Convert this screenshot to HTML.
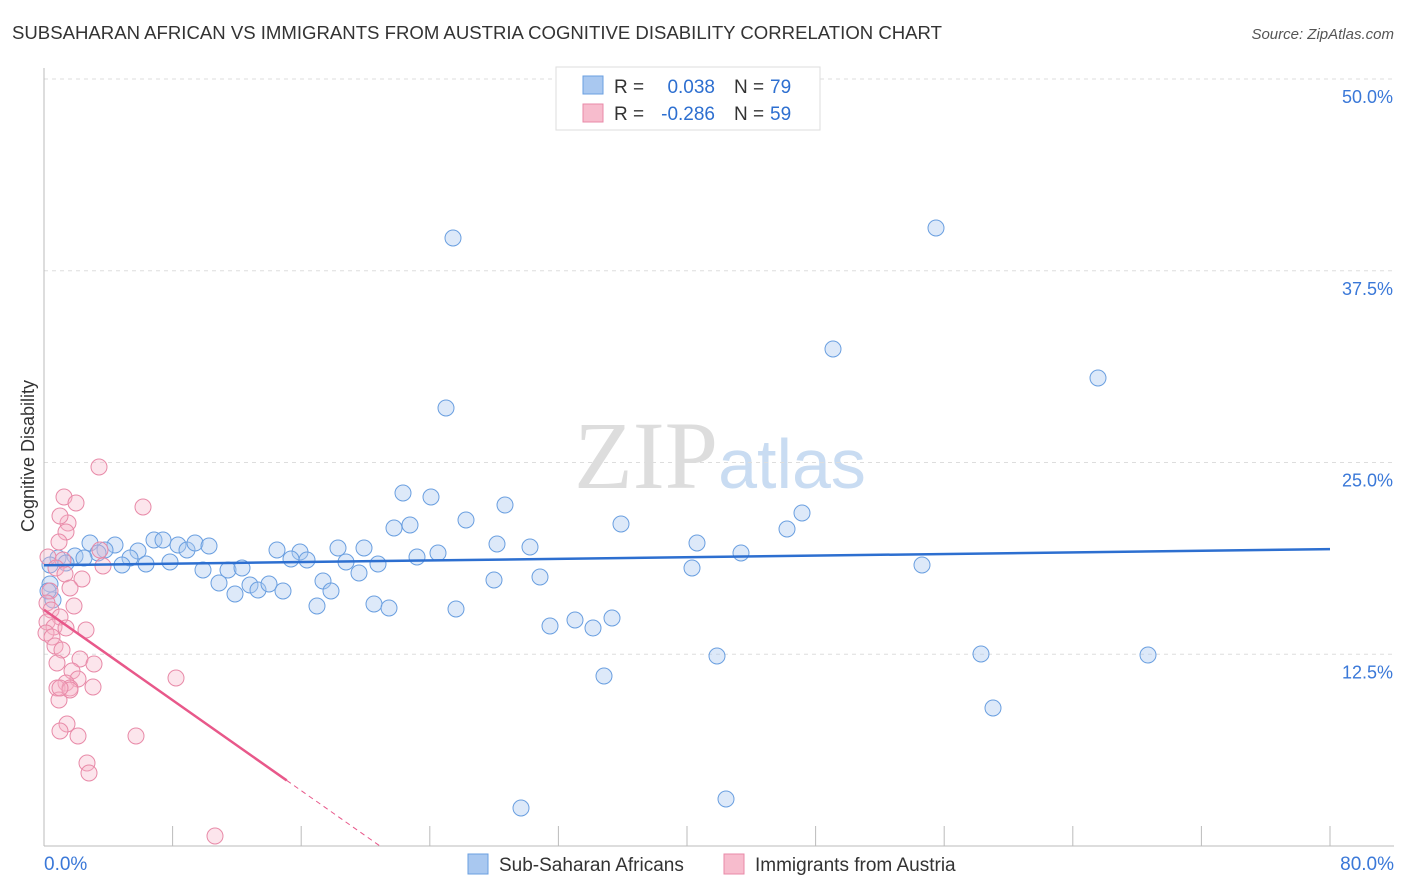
<!DOCTYPE html>
<html><head><meta charset="utf-8"><style>
body{margin:0;background:#fff;font-family:"Liberation Sans",sans-serif}
svg{display:block}
</style></head><body>
<svg id="c" width="1406" height="892">
<text x="12" y="39" font-size="18" fill="#333" textLength="930" lengthAdjust="spacingAndGlyphs">SUBSAHARAN AFRICAN VS IMMIGRANTS FROM AUSTRIA COGNITIVE DISABILITY CORRELATION CHART</text>
<text x="1394" y="39" font-size="15" fill="#555" font-style="italic" text-anchor="end">Source: ZipAtlas.com</text>
<text x="0" y="0" transform="translate(34,456) rotate(-90)" font-size="18" fill="#333" text-anchor="middle">Cognitive Disability</text>
<text x="720" y="488" font-size="96" fill="#ddd" font-family="Liberation Serif,serif" text-anchor="middle">ZIP<tspan fill="#c9dcf2" font-family="Liberation Sans,sans-serif" font-size="70">atlas</tspan></text>
<g id="grid"></g><g id="pts"></g><g id="lines"></g>
<g>
<rect x="556" y="67" width="264" height="63" fill="#fff" stroke="#ddd"/>
<rect x="583" y="76" width="20" height="18" fill="#a9c8f0" stroke="#6a9fe0"/>
<text x="614" y="93" font-size="19" fill="#333">R =</text>
<text x="715" y="93" font-size="19" fill="#2d6fd0" text-anchor="end">0.038</text>
<text x="734" y="93" font-size="19" fill="#333">N =</text>
<text x="770" y="93" font-size="19" fill="#2d6fd0">79</text>
<rect x="583" y="104" width="20" height="18" fill="#f7bccd" stroke="#e88aa8"/>
<text x="614" y="120" font-size="19" fill="#333">R =</text>
<text x="715" y="120" font-size="19" fill="#2d6fd0" text-anchor="end">-0.286</text>
<text x="734" y="120" font-size="19" fill="#333">N =</text>
<text x="770" y="120" font-size="19" fill="#2d6fd0">59</text>
</g>
<g>
<rect x="468" y="854" width="20" height="20" fill="#a9c8f0" stroke="#6a9fe0"/>
<text x="499" y="871" font-size="19" fill="#333">Sub-Saharan Africans</text>
<rect x="724" y="854" width="20" height="20" fill="#f7bccd" stroke="#e88aa8"/>
<text x="755" y="871" font-size="19" fill="#333">Immigrants from Austria</text>
</g>
<text x="44" y="870" font-size="19" fill="#3a78d8">0.0%</text>
<text x="1394" y="870" font-size="19" fill="#3a78d8" text-anchor="end">80.0%</text>
</svg>
<script>
const yTicks=[12.5,25,37.5,50];
const yTickLabels=["12.5%","25.0%","37.5%","50.0%"];
const blueX=[453,936,833,1098,446,403,431,505,466,394,410,621,802,787,697,741,497,530,438,417,364,338,378,346,359,300,277,291,307,323,331,317,374,389,456,494,540,550,575,593,612,604,692,717,922,981,1148,993,521,726,90,115,105,98,75,58,50,66,84,138,130,122,146,154,163,178,187,195,209,170,203,219,228,235,242,250,258,269,283,53,50,48].map(p=>(p-44)/16.075);
const blueY=[238,228,349,378,408,493,497,505,520,528,525,524,513,529,543,553,544,547,553,557,548,548,564,562,573,552,550,559,560,581,591,606,604,608,609,580,577,626,620,628,618,676,568,656,565,654,655,708,808,799,543,545,550,553,556,558,565,563,558,551,558,565,564,540,540,545,550,543,546,562,570,583,570,594,568,585,590,584,591,600,584,591].map(p=>(846-p)/15.34);
const pinkX=[99,64,143,76,68,60,66,59,48,63,100,103,56,65,82,70,50,47,74,51,60,47,54,46,66,86,52,55,62,80,94,57,72,78,176,66,57,70,93,59,67,60,78,136,87,89,215,70,60].map(p=>(p-44)/16.075);
const pinkY=[467,497,507,503,523,516,532,542,557,560,550,566,568,574,579,588,591,603,606,610,617,622,627,633,628,630,637,646,650,659,664,663,671,679,678,683,688,688,687,700,724,731,736,736,763,773,836,690,688].map(p=>(846-p)/15.34);
const blueTrend=[18.3,19.35];
const pinkTrend=[15.4,26.1];
const X=v=>44+v*16.075, Y=v=>846-v*15.34;
const NS="http://www.w3.org/2000/svg";
function mk(t,a,p){const e=document.createElementNS(NS,t);for(const k in a)e.setAttribute(k,a[k]);p.appendChild(e);return e;}
const g=document.getElementById('grid');
yTicks.forEach((t,i)=>{
 const l=mk('line',{x1:44,x2:1394,y1:Y(t),y2:Y(t),stroke:'#ddd','stroke-dasharray':'4,4'},g);
 
 
 const tx=mk('text',{x:1393,y:Y(t)+24,'font-size':18,fill:'#3a78d8','text-anchor':'end'},g);
 tx.textContent=yTickLabels[i];
 
 
});
mk('line',{x1:44,x2:44,y1:68,y2:846,stroke:'#bbb'},g);
mk('line',{x1:44,x2:1394,y1:846,y2:846,stroke:'#bbb'},g);
for(let i=0;i<=10;i++){const l=mk('line',{x1:X(i*8),x2:X(i*8),y1:826,y2:846,stroke:'#bbb'},g);
 
 }
const p=document.getElementById('pts');
blueX.forEach((v,i)=>{const c=mk('circle',{cx:X(v),cy:Y(blueY[i]),r:8,fill:'rgba(170,200,240,0.4)',stroke:'#6a9fe0','stroke-width':1},p);
 
 });
pinkX.forEach((v,i)=>{const c=mk('circle',{cx:X(v),cy:Y(pinkY[i]),r:8,fill:'rgba(245,180,200,0.35)',stroke:'#e88aa8','stroke-width':1},p);
 
 });
const L=document.getElementById('lines');
const bl=mk('line',{x1:X(0),y1:Y(blueTrend[0]),x2:X(80),y2:Y(blueTrend[1]),stroke:'#2d6fd0','stroke-width':2.5},L);


const pv=x=>pinkTrend[0]*(1-x/20.9);
const pl=mk('line',{x1:X(0),y1:Y(pv(0)),x2:X(15.1),y2:Y(pv(15.1)),stroke:'#e8588a','stroke-width':2.5},L);


const pd=mk('line',{x1:X(15.1),y1:Y(pv(15.1)),x2:X(20.9),y2:Y(0),stroke:'#e8588a','stroke-width':1,'stroke-dasharray':'5,4'},L);


</script>
</body></html>
